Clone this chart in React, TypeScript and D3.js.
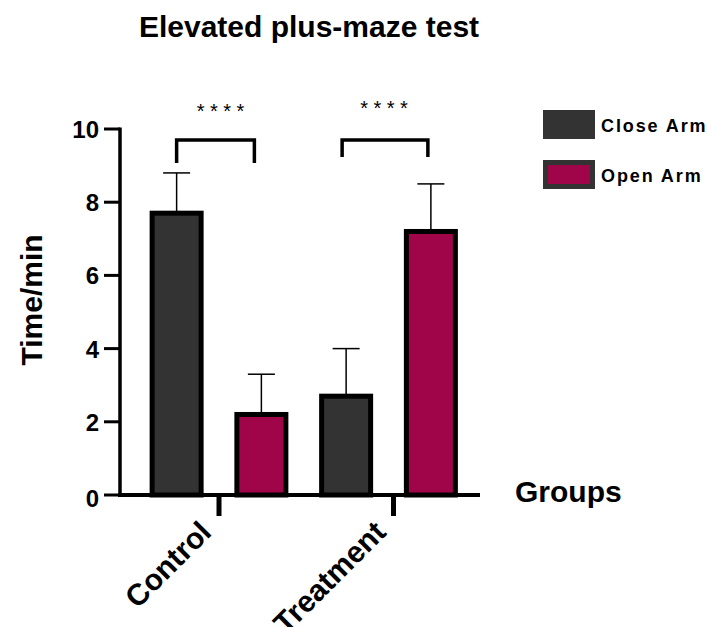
import React from "react";
import * as d3 from "d3";

const groups = ["Control", "Treatment"];
const series = ["Close Arm", "Open Arm"];
const closeArm = [7.7, 2.7];
const openArm = [2.2, 7.2];
const closeArmErr = [1.1, 1.3];
const openArmErr = [1.1, 1.3];
const yTicks = [0, 2, 4, 6, 8, 10];
const sigLabels = ["****", "****"];

const colors = ["#333333", "#A0054A"];

export default function App() {
  const W = 708, H = 627;
  const y = d3.scaleLinear().domain([0, 10]).range([495, 129]);
  const x0 = d3.scaleBand().domain(groups).range([134.25, 473.25]).paddingInner(0).paddingOuter(0);
  const x1 = d3.scaleBand().domain(series).range([0, x0.bandwidth()]).padding(0);
  const vals = [closeArm, openArm];
  const errs = [closeArmErr, openArmErr];
  const font = "Arial, 'Liberation Sans', sans-serif";

  const barCx = (g: string, s: string) => (x0(g) as number) + (x1(s) as number) + x1.bandwidth() / 2;

  const bars: any[] = [];
  groups.forEach((g, gi) => {
    series.forEach((s, si) => {
      const cx = barCx(g, s);
      const v = vals[si][gi];
      const e = errs[si][gi];
      const bw = 49;
      bars.push(
        <g key={g + s}>
          <line x1={cx} x2={cx} y1={y(v)} y2={y(v + e)} stroke="#000" strokeWidth={1.5} />
          <line x1={cx - 13.5} x2={cx + 13.5} y1={y(v + e)} y2={y(v + e)} stroke="#000" strokeWidth={1.5} />
          <rect x={cx - bw / 2} y={y(v)} width={bw} height={y(0) - y(v)} fill={colors[si]} stroke="#000" strokeWidth={5} />
        </g>
      );
    });
  });

  const brackets = groups.map((g, gi) => {
    const a = barCx(g, series[0]) - (gi === 0 ? 0 : 4);
    const b = barCx(g, series[1]) - (gi === 0 ? 7 : 3);
    const top = 140;
    const bottom = gi === 0 ? 163 : 157;
    const mid = (a + b) / 2 + (gi === 0 ? 5 : -1);
    return (
      <g key={"br" + g}>
        <path d={`M${a},${bottom}V${top}H${b}V${bottom}`} fill="none" stroke="#000" strokeWidth={3.5} />
        <text x={mid + 2.75} y={gi === 0 ? 118 : 115} textAnchor="middle" fontFamily={font} fontSize={20} letterSpacing={5.5}>{sigLabels[gi]}</text>
      </g>
    );
  });

  return (
    <svg width={W} height={H} style={{ position: "absolute", left: 0, top: 0, background: "#fff" }}>
      <text x={309} y={37} textAnchor="middle" fontFamily={font} fontWeight="bold" fontSize={30}>Elevated plus-maze test</text>
      {bars}
      {/* y axis */}
      <line x1={120} x2={120} y1={y(10) - 1.5} y2={y(0) + 2} stroke="#000" strokeWidth={3.5} />
      {yTicks.map((t) => (
        <g key={t}>
          <line x1={104} x2={120} y1={y(t)} y2={y(t)} stroke="#000" strokeWidth={3} />
          <text x={99} y={y(t) + (t === 0 ? 12 : 9)} textAnchor="end" fontFamily={font} fontWeight="bold" fontSize={24}>{t}</text>
        </g>
      ))}
      {/* x axis */}
      <line x1={118} x2={480} y1={y(0)} y2={y(0)} stroke="#000" strokeWidth={4} />
      {groups.map((g, gi) => {
        const cx = (x0(g) as number) + x0.bandwidth() / 2 + (gi === 1 ? 5 : 0);
        return (
          <g key={"xt" + g}>
            <line x1={cx} x2={cx} y1={y(0)} y2={y(0) + 21} stroke="#000" strokeWidth={5} />
            <text transform={`translate(${cx - 6},${y(0) + 39}) rotate(-45)`} textAnchor="end" fontFamily={font} fontWeight="bold" fontSize={30}>{g}</text>
          </g>
        );
      })}
      <text transform={`translate(42,300) rotate(-90)`} textAnchor="middle" fontFamily={font} fontWeight="bold" fontSize={30}>Time/min</text>
      <text x={515} y={502} fontFamily={font} fontWeight="bold" fontSize={30}>Groups</text>
      {/* legend */}
      {series.map((s, si) => (
        <g key={"lg" + s}>
          <rect x={543} y={110 + si * 50} width={52} height={29} fill="#333333" />
          {si === 1 && <rect x={548} y={115 + si * 50} width={42} height={19} fill={colors[1]} />}
          <text x={601} y={132 + si * 50} fontFamily={font} fontWeight="bold" fontSize={18} letterSpacing={1.9}>{s}</text>
        </g>
      ))}
      {brackets}
    </svg>
  );
}
